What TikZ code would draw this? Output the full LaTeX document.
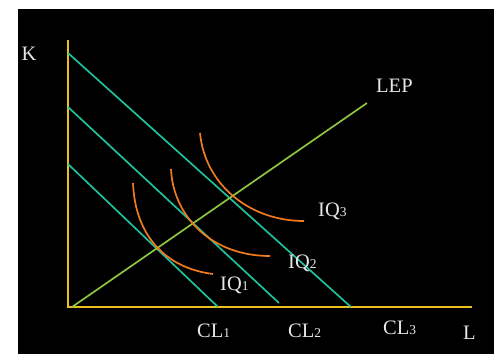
\documentclass[tikz,border=0pt]{standalone}
\usepackage{fontspec}
\setmainfont{Liberation Serif}
\definecolor{axiscol}{HTML}{E8C020}
\definecolor{tealcol}{HTML}{1FC09C}
\definecolor{orangecol}{HTML}{F07A20}
\definecolor{lepcol}{HTML}{8DC641}
\definecolor{txtcol}{HTML}{E6E6E6}
\newcommand{\sm}[1]{{\fontsize{13.5}{13.5}\selectfont #1}}
\begin{document}
\begin{tikzpicture}[x=1pt,y=-1pt,
  axisline/.style={draw=axiscol,line width=1.8pt},
  costline/.style={draw=tealcol,line width=1.7pt},
  isoq/.style={draw=orangecol,line width=1.7pt},
  lepline/.style={draw=lepcol,line width=1.7pt},
  lbl/.style={text=txtcol,font=\fontsize{20.5}{20.5}\selectfont,inner sep=0pt,anchor=base west}]
\useasboundingbox (0,0) rectangle (494,354);
\fill[white] (0,0) rectangle (494,354);
\fill[black] (18,9) rectangle (494,354);
% coordinates
\coordinate (ytop) at (68,40);
\coordinate (o) at (68,307);
\coordinate (xend) at (472,307);
\coordinate (c3a) at (68,53);
\coordinate (c3b) at (351,307);
\coordinate (c2a) at (68,107);
\coordinate (c2b) at (279,303);
\coordinate (c1a) at (68,164);
\coordinate (c1b) at (218,307);
\coordinate (lepa) at (72,307);
\coordinate (lepb) at (367,103);
% axes
\draw[axisline] (ytop) -- (o) -- (xend);
% cost lines
\draw[costline] (c3a) -- (c3b);
\draw[costline] (c2a) -- (c2b);
\draw[costline] (c1a) -- (c1b);
% expansion path
\draw[lepline] (lepa) -- (lepb);
% isoquants
\draw[isoq] (200,133) .. controls (205,185) and (250,221) .. (304,221);
\draw[isoq] (171,169) .. controls (173,215) and (210,256) .. (270,256);
\draw[isoq] (133,183) .. controls (135,235) and (165,268) .. (213,274);
% labels
\node[lbl] (K) at (21.5,60) {K};
\node[lbl] (L) at (463,339) {L};
\node[lbl] (CL1) at (197,337) {CL\sm{1}};
\node[lbl] (CL2) at (288,337) {CL\sm{2}};
\node[lbl] (CL3) at (383,334) {CL\sm{3}};
\node[lbl] (IQ1) at (220,290) {IQ\sm{1}};
\node[lbl] (IQ2) at (288,268) {IQ\sm{2}};
\node[lbl] (IQ3) at (318,216) {IQ\sm{3}};
\node[lbl] (LEP) at (376,92) {LEP};
\end{tikzpicture}
\end{document}
